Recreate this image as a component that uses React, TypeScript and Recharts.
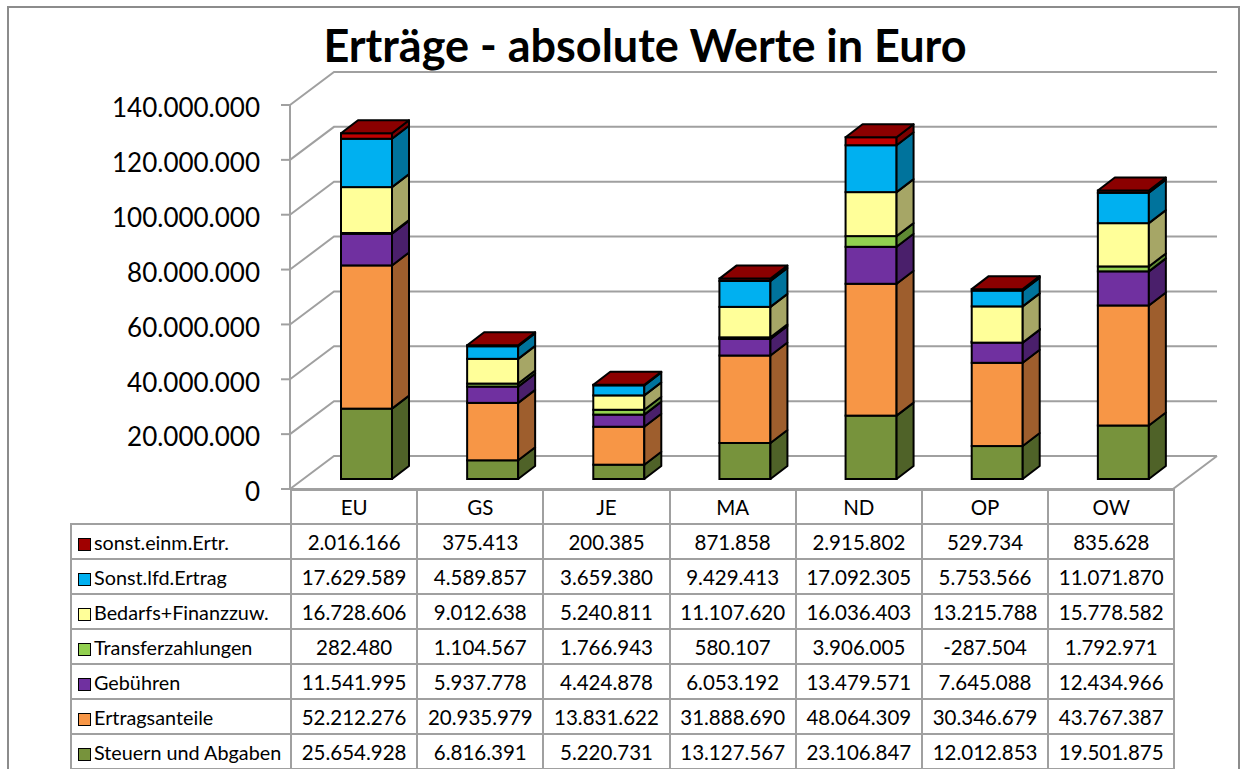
import { Bar, BarChart, CartesianGrid, XAxis, YAxis } from "recharts";

const categories = ["EU", "GS", "JE", "MA", "ND", "OP", "OW"];

const steuernUndAbgaben = [25654928, 6816391, 5220731, 13127567, 23106847, 12012853, 19501875];
const ertragsanteile = [52212276, 20935979, 13831622, 31888690, 48064309, 30346679, 43767387];
const gebuehren = [11541995, 5937778, 4424878, 6053192, 13479571, 7645088, 12434966];
const transferzahlungen = [282480, 1104567, 1766943, 580107, 3906005, -287504, 1792971];
const bedarfsFinanzzuw = [16728606, 9012638, 5240811, 11107620, 16036403, 13215788, 15778582];
const sonstLfdErtrag = [17629589, 4589857, 3659380, 9429413, 17092305, 5753566, 11071870];
const sonstEinmErtr = [2016166, 375413, 200385, 871858, 2915802, 529734, 835628];

const yTicks = [0, 20000000, 40000000, 60000000, 80000000, 100000000, 120000000, 140000000];

// stacking order, bottom to top
const series = [
  { key: "steuern", name: "Steuern und Abgaben", values: steuernUndAbgaben, front: "#77933c", side: "#4f6228", top: "#5f7a2e" },
  { key: "ertrag", name: "Ertragsanteile", values: ertragsanteile, front: "#f79646", side: "#9e5e2d", top: "#c4763a" },
  { key: "gebuehren", name: "Gebühren", values: gebuehren, front: "#7030a0", side: "#4a1f6b", top: "#5a2682" },
  { key: "transfer", name: "Transferzahlungen", values: transferzahlungen, front: "#92d050", side: "#5f8a33", top: "#78ad41" },
  { key: "bedarf", name: "Bedarfs+Finanzzuw.", values: bedarfsFinanzzuw, front: "#ffff99", side: "#a6a666", top: "#d4d47e" },
  { key: "lfd", name: "Sonst.lfd.Ertrag", values: sonstLfdErtrag, front: "#00b0f0", side: "#00739c", top: "#0090c4" },
  { key: "einm", name: "sonst.einm.Ertr.", values: sonstEinmErtr, front: "#c00000", side: "#7a0000", top: "#8b0000" },
];

const data = categories.map((name, i) => {
  const row: Record<string, string | number> = { name };
  series.forEach((s) => (row[s.key] = s.values[i]));
  return row;
});

const fmt = (n: number) =>
  (n < 0 ? "-" : "") + String(Math.abs(Math.round(n))).replace(/\B(?=(\d{3})+(?!\d))/g, ".");

// 3D projection: floor depth and bar placement inside it
const WALL_DX = 44;
const WALL_DY = 33;
const BAR_FX = 13;
const BAR_FY = 10;
const BAR_DX = 17;
const BAR_DY = 13;
const PLOT_BOTTOM = 489;
const GRID = "#a0a0a0";
const FONT = "Lato, 'Open Sans', sans-serif";

function makeShape(s: (typeof series)[number], isTop: boolean) {
  return (p: any) => {
    const { x, y, width, height } = p;
    if (x == null || y == null || !width || height == null) return <g />;
    const h = Math.abs(height);
    const x0 = x + BAR_FX;
    const y0 = Math.min(y, y + height) - BAR_FY;
    const x1 = x0 + width;
    const y1 = y0 + h;
    return (
      <g>
        <rect x={x0} y={y0} width={width} height={h} fill={s.front} stroke="#000" strokeWidth={2} />
        <polygon
          points={`${x1},${y0} ${x1 + BAR_DX},${y0 - BAR_DY} ${x1 + BAR_DX},${y1 - BAR_DY} ${x1},${y1}`}
          fill={s.side}
          stroke="#000"
          strokeWidth={2}
          strokeLinejoin="round"
        />
        {isTop && (
          <polygon
            points={`${x0},${y0} ${x0 + BAR_DX},${y0 - BAR_DY} ${x1 + BAR_DX},${y0 - BAR_DY} ${x1},${y0}`}
            fill={s.top}
            stroke="#000"
            strokeWidth={2}
            strokeLinejoin="round"
          />
        )}
      </g>
    );
  };
}

const gridLine = (p: any) => {
  const { x1, x2, y1 } = p;
  const floor = Math.abs(y1 - PLOT_BOTTOM) < 2;
  return (
    <g key={p.key}>
      <path
        d={`M${x1},${y1} L${x1 + WALL_DX},${y1 - WALL_DY} L${x2 + WALL_DX},${y1 - WALL_DY}`}
        fill="none"
        stroke={GRID}
        strokeWidth={2}
      />
      {floor && (
        <path d={`M${x1},${y1} L${x2},${y1} L${x2 + WALL_DX},${y1 - WALL_DY}`} fill="none" stroke={GRID} strokeWidth={2} />
      )}
    </g>
  );
};

const cell: React.CSSProperties = {
  border: `2px solid ${GRID}`,
  padding: 0,
  textAlign: "center",
  fontWeight: 400,
  color: "#000",
};

export default function App() {
  const tableRows = [...series].reverse();
  return (
    <div
      style={{
        position: "absolute",
        left: 0,
        top: 0,
        width: 1245,
        height: 769,
        background: "#fff",
        overflow: "hidden",
        fontFamily: FONT,
      }}
    >
      <div
        style={{
          position: "absolute",
          left: 7,
          top: 6,
          width: 1229,
          height: 800,
          border: "2px solid #8c8c8c",
        }}
      />
      <div
        style={{
          position: "absolute",
          left: 245,
          width: 800,
          top: 17,
          textAlign: "center",
          fontSize: 45,
          fontWeight: 700,
          lineHeight: "56px",
        }}
      >
        Erträge - absolute Werte in Euro
      </div>
      <div style={{ position: "absolute", left: 0, top: 0 }}>
        <BarChart
          width={1245}
          height={769}
          data={data}
          margin={{ top: 105, right: 72, bottom: 769 - PLOT_BOTTOM, left: 0 }}
        >
          <CartesianGrid vertical={false} horizontal={gridLine} />
          <XAxis dataKey="name" hide />
          <YAxis
            width={290}
            domain={[0, 140000000]}
            ticks={yTicks}
            interval={0}
            tickFormatter={fmt}
            tickSize={9}
            tickMargin={21}
            axisLine={{ stroke: GRID, strokeWidth: 2 }}
            tickLine={{ stroke: GRID, strokeWidth: 2 }}
            tick={{ fontSize: 26, fontFamily: FONT, fill: "#000", dy: 3 }}
          />
          {series.map((s, i) => (
            <Bar
              key={s.key}
              dataKey={s.key}
              name={s.name}
              stackId="a"
              barSize={51}
              fill={s.front}
              shape={makeShape(s, i === series.length - 1)}
              isAnimationActive={false}
            />
          ))}
        </BarChart>
      </div>
      <table
        style={{
          position: "absolute",
          left: 70,
          top: 489,
          width: 1104,
          borderCollapse: "collapse",
          tableLayout: "fixed",
          fontSize: 20.5,
          fontFamily: FONT,
        }}
      >
        <colgroup>
          <col style={{ width: 220 }} />
          {categories.map((c) => (
            <col key={c} style={{ width: 126.2 }} />
          ))}
        </colgroup>
        <thead>
          <tr style={{ height: 34 }}>
            <th style={{ border: "none", padding: 0 }} />
            {categories.map((c) => (
              <th key={c} style={cell}>
                {c}
              </th>
            ))}
          </tr>
        </thead>
        <tbody>
          {tableRows.map((s) => (
            <tr key={s.key} style={{ height: 35 }}>
              <td style={{ ...cell, textAlign: "left", whiteSpace: "nowrap", paddingLeft: 6, fontSize: 19.8 }}>
                <span
                  style={{
                    display: "inline-block",
                    width: 11,
                    height: 11,
                    background: s.key === "einm" ? "#a00000" : s.front,
                    border: "1.5px solid #000",
                    marginRight: 3,
                    verticalAlign: "-1px",
                  }}
                />
                {s.name}
              </td>
              {s.values.map((v, i) => (
                <td key={categories[i]} style={cell}>
                  {fmt(v)}
                </td>
              ))}
            </tr>
          ))}
        </tbody>
      </table>
    </div>
  );
}
